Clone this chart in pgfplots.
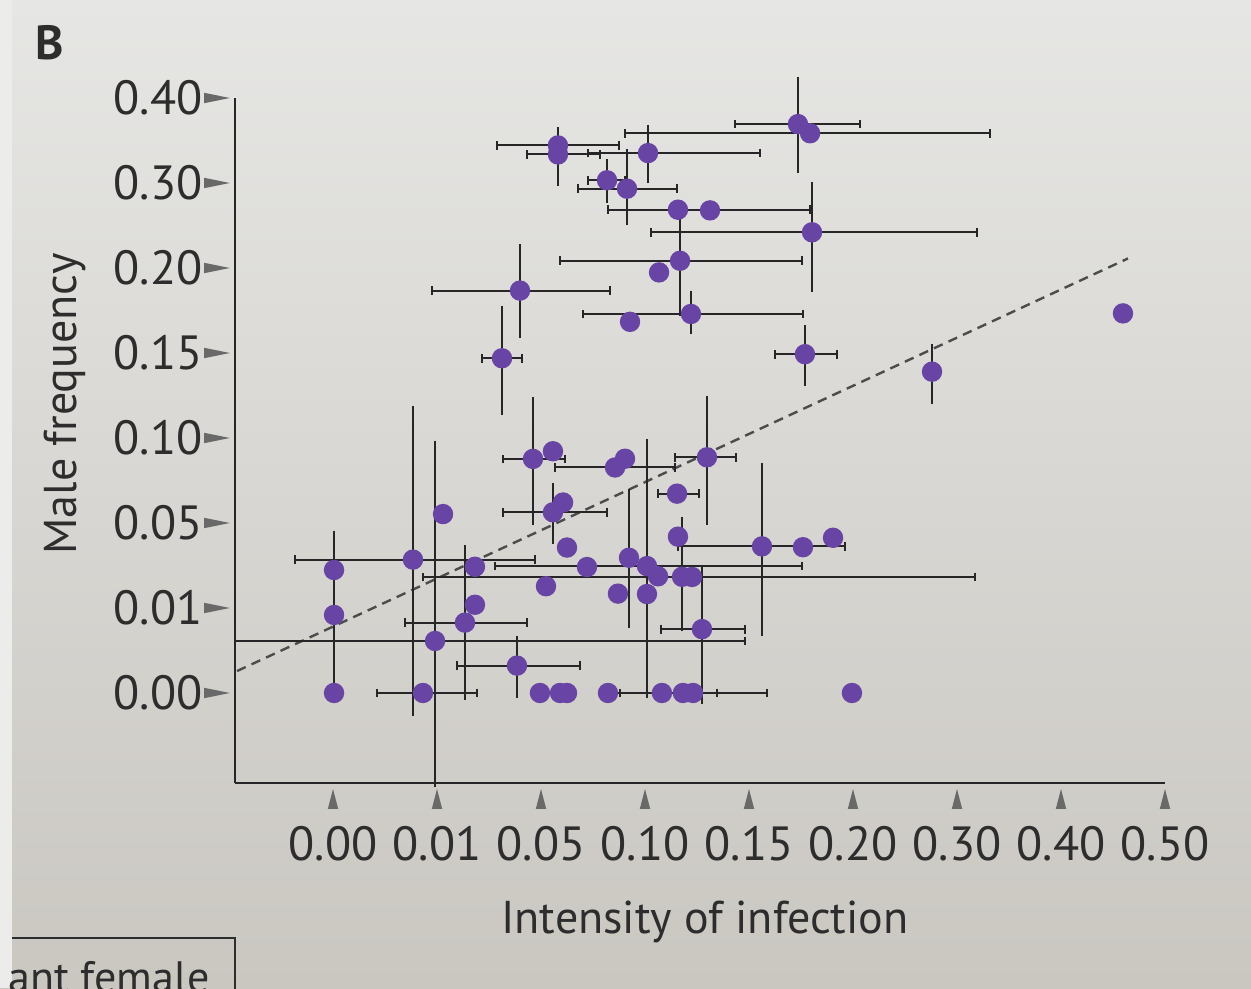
\documentclass[border=0pt]{standalone}
\usepackage{fontspec}
\setmainfont{PT Sans}
\usepackage{pgfplots}
\pgfplotsset{compat=1.18}
\usepackage{pgfplotstable}
\usetikzlibrary{backgrounds}

\definecolor{dot}{RGB}{104,68,164}
\definecolor{bar}{RGB}{38,38,38}
\definecolor{ink}{RGB}{45,45,45}
\definecolor{tickgrey}{RGB}{105,105,105}
\definecolor{papertop}{RGB}{230,230,228}
\definecolor{papermid}{RGB}{223,222,219}
\definecolor{paperbot}{RGB}{202,199,193}
\definecolor{edge}{RGB}{236,236,235}

% arrow-like tick marks of the original
\pgfdeclareplotmark{rtri}{%
  \pgfpathmoveto{\pgfqpoint{-3.2pt}{1.3pt}}%
  \pgfpathlineto{\pgfqpoint{3.2pt}{0pt}}%
  \pgfpathlineto{\pgfqpoint{-3.2pt}{-1.3pt}}%
  \pgfpathclose\pgfusepathqfill}
\pgfdeclareplotmark{utri}{%
  \pgfpathmoveto{\pgfqpoint{-1.3pt}{-2.5pt}}%
  \pgfpathlineto{\pgfqpoint{0pt}{2.5pt}}%
  \pgfpathlineto{\pgfqpoint{1.3pt}{-2.5pt}}%
  \pgfpathclose\pgfusepathqfill}

% x, y in tick-index units (tick k = k-th label)
\pgfplotstableread{
x     y
2.163 6.442
2.163 6.336
3.029 6.352
2.635 6.032
2.827 5.933
3.317 5.686
3.625 5.678
4.606 5.420
4.471 6.693
4.587 6.585
3.135 4.948
3.337 5.085
1.798 4.734
2.856 4.367
3.442 4.459
1.625 3.938
4.538 3.986
5.760 3.780
7.596 4.466
0.010 1.447
0.010 0.918
0.010 0.000
0.769 1.569
0.865 0.000
0.981 0.612
1.058 2.105
1.269 0.828
1.365 1.485
1.365 1.038
1.769 0.322
1.923 2.754
2.115 2.844
2.115 2.126
2.212 2.241
2.250 1.711
2.048 1.256
2.442 1.482
1.990 0.000
2.183 0.000
2.250 0.000
2.644 0.000
2.712 2.653
2.808 2.756
2.740 1.169
3.019 1.164
2.846 1.591
3.019 1.493
3.125 1.373
3.356 1.367
3.452 1.365
3.317 1.839
3.308 2.345
3.596 2.773
3.548 0.751
4.125 1.725
4.519 1.715
4.808 1.826
3.163 0.000
3.365 0.000
3.462 0.000
4.990 0.000
}\dots

\pgfplotstableread{
x     y     xm    xp
2.163 6.442 0.587 0.587
2.163 6.336 0.298 0.404
3.029 6.352 0.577 1.077
2.635 6.032 0.183 0.173
2.827 5.933 0.471 0.481
3.317 5.686 0.673 1.269
4.606 5.420 1.548 1.587
4.471 6.693 0.606 0.596
4.587 6.585 1.779 1.731
3.337 5.085 1.154 1.173
1.798 4.734 0.846 0.865
3.442 4.459 1.038 1.077
1.625 3.938 0.192 0.192
4.538 3.986 0.288 0.308
0.769 1.569 1.135 1.173
0.865 0.000 0.442 0.519
0.981 0.612 1.923 2.981
1.269 0.828 0.577 0.596
1.769 0.322 0.577 0.606
1.923 2.754 0.288 0.308
2.115 2.126 0.481 0.519
2.712 2.653 0.577 0.577
3.019 1.493 1.462 1.490
3.452 1.365 2.587 2.721
3.308 2.345 0.183 0.212
3.596 2.773 0.308 0.279
3.548 0.751 0.394 0.413
4.125 1.725 0.808 0.798
3.163 0.000 0.519 0.529
3.462 0.000 0.702 0.712
}\xbars

\pgfplotstableread{
x     y     ym    yp
2.163 6.442 0.424 0.165
3.029 6.352 0.306 0.282
2.635 6.032 0.212 0.200
2.827 5.933 0.376 0.412
4.606 5.420 0.647 0.541
4.471 6.693 0.529 0.506
3.337 5.085 0.600 0.600
1.798 4.734 0.506 0.494
3.442 4.459 0.188 0.224
1.625 3.938 0.612 0.565
4.538 3.986 0.318 0.294
5.760 3.780 0.329 0.271
0.010 0.918 0.906 0.941
0.769 1.569 1.788 1.753
0.981 0.612 1.671 2.306
1.269 0.828 0.859 0.859
1.769 0.322 0.329 0.294
1.923 2.754 0.729 0.682
2.115 2.126 0.318 0.294
2.846 1.591 0.776 0.753
3.019 1.493 1.506 1.447
3.356 1.367 0.588 0.647
3.596 2.773 0.741 0.671
3.548 0.751 0.824 0.706
4.125 1.725 1.000 0.929
}\ybars

\begin{document}
\begin{tikzpicture}
\begin{axis}[
    x=26pt, y=21.25pt,
    xmin=-0.942, xmax=8, ymin=-1.059, ymax=7,
    axis x line*=bottom, axis y line*=left,
    axis line style={draw=black!85, line width=0.6pt},
    xtick={0,...,8},
    xticklabels={0.00,0.01,0.05,0.10,0.15,0.20,0.30,0.40,0.50},
    ytick={0,...,7},
    yticklabels={0.00,0.01,0.05,0.10,0.15,0.20,0.30,0.40},
    major tick length=0pt, tick style={draw=none},
    ticklabel style={font=\fontsize{12}{14}\selectfont, text=ink},
    xticklabel style={yshift=-7.2pt},
    yticklabel style={xshift=-4.6pt},
    clip=false,
]
\addplot[draw=black!70, line width=0.6pt, dash pattern=on 2.4pt off 1.6pt]
    coordinates {(-0.923,0.258) (7.644,5.112)};

\addplot[only marks, mark=*, mark size=2.35pt, mark options={draw=dot, fill=dot}]
    table[x=x, y=y] {\dots};

\addplot[draw=none, error bars/.cd, x dir=both, x explicit, error mark=|,
    error bar style={draw=bar, line width=0.5pt},
    error mark options={draw=bar, mark size=1.1pt, line width=0.6pt}]
    table[x=x, y=y, x error minus=xm, x error plus=xp] {\xbars};

\addplot[draw=none, error bars/.cd, y dir=both, y explicit, error mark=-,
    error bar style={draw=bar, line width=0.5pt},
    error mark options={draw=bar, mark size=1.1pt, line width=0.6pt}]
    table[x=x, y=y, y error minus=ym, y error plus=yp] {\ybars};

% tick arrows
\addplot[only marks, mark=rtri, mark options={color=tickgrey, fill=tickgrey}]
    coordinates {(-1.115,0) (-1.115,1) (-1.115,2) (-1.115,3) (-1.115,4) (-1.115,5) (-1.115,6) (-1.115,7)};
\addplot[only marks, mark=utri, mark options={color=tickgrey, fill=tickgrey}]
    coordinates {(0,-1.247) (1,-1.247) (2,-1.247) (3,-1.247) (4,-1.247) (5,-1.247) (6,-1.247) (7,-1.247) (8,-1.247)};

\node[font=\fontsize{11.5}{14}\selectfont, text=ink] at (axis cs:3.577,-2.694) {Intensity of infection};
\node[font=\fontsize{11.5}{14}\selectfont, text=ink, rotate=90] at (axis cs:-2.577,3.4) {Male frequency};
\node[font=\bfseries\fontsize{12}{14}\selectfont, text=ink] at (axis cs:-2.721,7.647) {B};

% edge of the neighbouring panel
\draw[ink, line width=0.6pt] (axis cs:-3.087,-2.882) -- (axis cs:-0.942,-2.882) -- (axis cs:-0.942,-3.6);
\node[anchor=base west, inner sep=0pt, font=\fontsize{11}{13}\selectfont, text=ink] at (axis cs:-3.13,-3.52) {ant female};

\coordinate (bl) at (axis cs:-3.202,-3.471);
\coordinate (tr) at (axis cs:8.827,8.153);
\coordinate (sr) at (axis cs:-3.087,-3.471);
\end{axis}
\begin{scope}[on background layer]
  \shade[top color=papertop, middle color=papermid, bottom color=paperbot] (bl) rectangle (tr);
  \fill[edge] (bl) rectangle (sr |- tr);
\end{scope}
\pgfresetboundingbox
\path[use as bounding box] (bl) rectangle (tr);
\end{tikzpicture}
\end{document}
